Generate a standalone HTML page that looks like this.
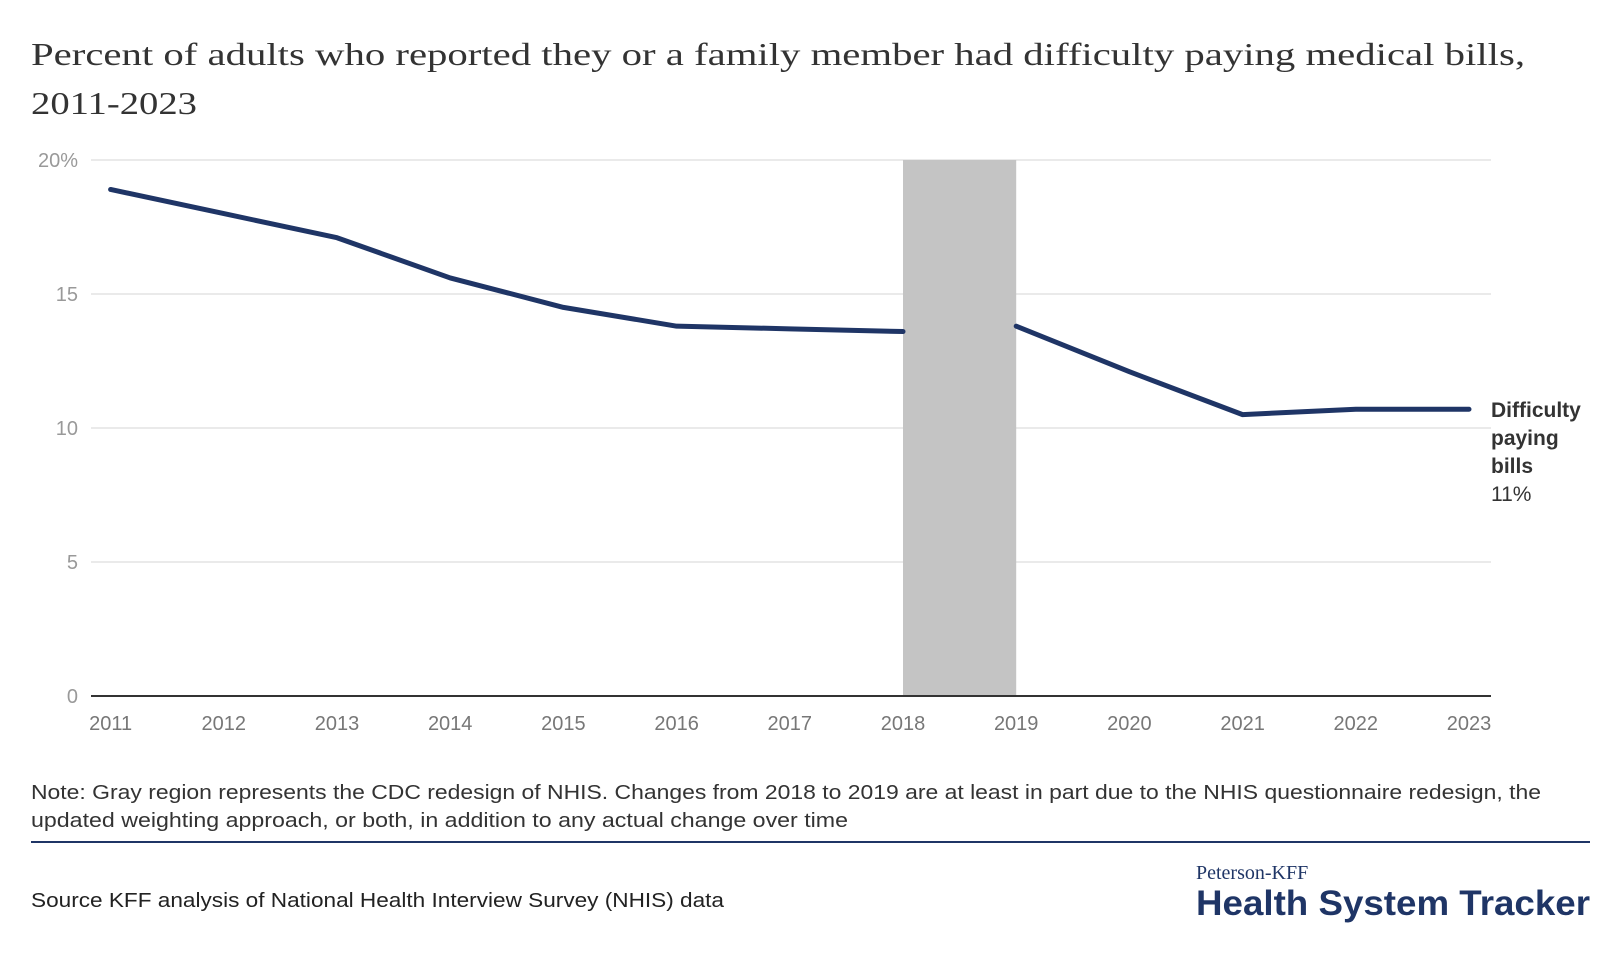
<!DOCTYPE html>
<html><head><meta charset="utf-8"><style>
html,body{margin:0;padding:0;background:#fff;}
svg{display:block;}
</style></head><body>
<svg id="chart" width="1620" height="980" xmlns="http://www.w3.org/2000/svg" font-family="Liberation Sans, sans-serif">
<text x="31" y="65" font-family="Liberation Serif, serif" font-size="32" fill="#333" textLength="1494" lengthAdjust="spacingAndGlyphs">Percent of adults who reported they or a family member had difficulty paying medical bills,</text>
<text x="31" y="114" font-family="Liberation Serif, serif" font-size="32" fill="#333" textLength="166" lengthAdjust="spacingAndGlyphs">2011-2023</text>
<g id="plot"></g>
<text x="31" y="799" font-size="20" fill="#333" textLength="1510" lengthAdjust="spacingAndGlyphs">Note: Gray region represents the CDC redesign of NHIS. Changes from 2018 to 2019 are at least in part due to the NHIS questionnaire redesign, the</text>
<text x="31" y="827" font-size="20" fill="#333" textLength="817" lengthAdjust="spacingAndGlyphs">updated weighting approach, or both, in addition to any actual change over time</text>
<line x1="31" y1="842" x2="1590" y2="842" stroke="#1f3566" stroke-width="2"/>
<text x="31" y="907" font-size="20" fill="#222" textLength="693" lengthAdjust="spacingAndGlyphs">Source KFF analysis of National Health Interview Survey (NHIS) data</text>
<text x="1196" y="879" font-family="Liberation Serif, serif" font-size="20" fill="#1f3566">Peterson-KFF</text>
<text x="1196" y="915" font-size="35" font-weight="bold" fill="#1f3566" textLength="394" lengthAdjust="spacingAndGlyphs">Health System Tracker</text>
</svg>
<script>
const years = [2011,2012,2013,2014,2015,2016,2017,2018,2019,2020,2021,2022,2023];
const values = [18.9,18.0,17.1,15.6,14.5,13.8,13.7,13.6,13.8,12.1,10.5,10.7,10.7];
const yTicks = [0,5,10,15,20];
const yTickLabels = ['0','5','10','15','20%'];
const redesignStart = 2018, redesignEnd = 2019;
const seriesLabel = ['Difficulty','paying','bills'];
const seriesValueLabel = '11%';

const NS='http://www.w3.org/2000/svg';
const plot=document.getElementById('plot');
const X0=110.6, X1=1469, Y0=696, Y1=160, LEFT=91, RIGHT=1491;
const x=y=>X0+(y-years[0])*(X1-X0)/(years[years.length-1]-years[0]);
const yS=v=>Y0-(v-0)*(Y0-Y1)/20;
function mk(tag,attrs){const e=document.createElementNS(NS,tag);for(const k in attrs)e.setAttribute(k,attrs[k]);plot.appendChild(e);return e;}

yTicks.forEach((t,i)=>{
  if(t!==0){const g=mk('line',{x1:LEFT,x2:RIGHT,y1:yS(t),y2:yS(t),stroke:'#e3e3e3','stroke-width':1.5});
  
  }
  const l=mk('text',{x:78,y:yS(t)+7,'text-anchor':'end','font-size':20,fill:'#999'});
  l.textContent=yTickLabels[i];
  
  
});
const band=mk('rect',{x:x(redesignStart),y:yS(20),width:x(redesignEnd)-x(redesignStart),height:yS(0)-yS(20),fill:'#c4c4c4'});


const ax=mk('line',{x1:LEFT,x2:RIGHT,y1:Y0,y2:Y0,stroke:'#333','stroke-width':2});


years.forEach(yr=>{
  const l=mk('text',{x:x(yr),y:730,'text-anchor':'middle','font-size':20,fill:'#777'});
  l.textContent=yr;
  
  
});
function seg(idx,name){
  const d=idx.map((i,k)=>(k?'L':'M')+x(years[i])+','+yS(values[i])).join(' ');
  const p=mk('path',{d:d,fill:'none',stroke:'#1f3566','stroke-width':5,'stroke-linecap':'round','stroke-linejoin':'round'});
  
  
}
const before=[],after=[];
years.forEach((yr,i)=>{(yr<=redesignStart?before:after).push(i);});
seg(before,'line-before-redesign');
seg(after,'line-after-redesign');
seriesLabel.forEach((s,i)=>{
  const t=mk('text',{x:1491,y:417+i*28,'font-size':21,'font-weight':'bold',fill:'#333'});
  t.textContent=s;
  
  
});
const v=mk('text',{x:1491,y:501,'font-size':21,fill:'#333'});
v.textContent=seriesValueLabel;


</script>
</body></html>
